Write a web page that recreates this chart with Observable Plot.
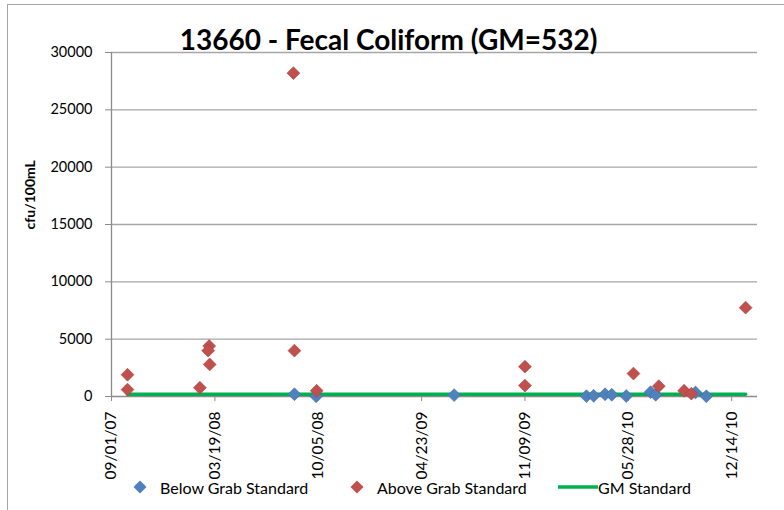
<!DOCTYPE html>
<html><head><meta charset="utf-8">
<script src="https://cdn.jsdelivr.net/npm/d3@7"></script>
<script src="https://cdn.jsdelivr.net/npm/@observablehq/plot@0.6"></script>
<style>
body{margin:0;background:#fff;}
#wrap{position:relative;width:784px;height:510px;font-family:Lato,"Open Sans",sans-serif;overflow:hidden;background:#fff;}
#frame{position:absolute;left:7px;top:4px;width:800px;height:520px;border-top:1.5px solid #a6a6a6;border-left:1.5px solid #a6a6a6;box-sizing:border-box;}
#chart{position:absolute;left:0;top:0;}
#legend{position:absolute;left:0;top:474px;width:784px;height:26px;font-size:16px;color:#000;}
#legend .item{position:absolute;top:0;display:flex;align-items:center;height:26px;white-space:nowrap;}
</style>
</head><body>
<div id="wrap">
  <div id="frame"></div>
  <div id="chart"></div>
  <div id="legend"></div>
</div>
<script>
// ---- data ----
const titleText = "13660 - Fecal Coliform (GM=532)";
const yLabel = "cfu/100mL";
const yTicks = [0, 5000, 10000, 15000, 20000, 25000, 30000];
const xTickLabels = ["09/01/07", "03/19/08", "10/05/08", "04/23/09", "11/09/09", "05/28/10", "12/14/10"];
const xDomain = ["2007-09-01", "2011-02-02"];

const belowDates = ["2008-08-20", "2008-10-01", "2009-06-25", "2010-03-08", "2010-03-22", "2010-04-13", "2010-04-26", "2010-05-24", "2010-07-10", "2010-07-20", "2010-10-05", "2010-10-26"];
const belowValues = [200, 20, 120, 30, 60, 200, 150, 40, 380, 150, 350, 20];

const aboveDates = ["2007-10-02", "2007-10-02", "2008-02-19", "2008-03-08", "2008-03-06", "2008-03-09", "2008-08-18", "2008-08-20", "2008-10-02", "2009-11-09", "2009-11-09", "2010-06-07", "2010-07-26", "2010-09-13", "2010-09-27", "2011-01-10"];
const aboveValues = [1900, 600, 760, 4400, 4000, 2800, 28200, 4000, 500, 2600, 950, 2000, 900, 500, 250, 7750];

const gmDates = ["2007-10-02", "2011-01-10"];
const gmValues = [200, 200];

const seriesNames = ["Below Grab Standard", "Above Grab Standard", "GM Standard"];
const colors = {below: "#4F81BD", above: "#C0504D", gm: "#00B050"};

// ---- build ----
const parseISO = s => new Date(s + "T00:00:00Z");
const parseMDY = s => { const [m, d, y] = s.split("/").map(Number); return new Date(Date.UTC(2000 + y, m - 1, d)); };
const tickDates = xTickLabels.map(parseMDY);
const labelOf = new Map(tickDates.map((d, i) => [+d, xTickLabels[i]]));

const below = belowDates.map((d, i) => ({date: parseISO(d), value: belowValues[i]}));
const above = aboveDates.map((d, i) => ({date: parseISO(d), value: aboveValues[i]}));
const gm = gmDates.map((d, i) => ({date: parseISO(d), value: gmValues[i]}));

const axisGray = "#8c8c8c";
const chart = Plot.plot({
  width: 784, height: 510,
  marginLeft: 111, marginRight: 27, marginTop: 52, marginBottom: 114,
  style: {fontFamily: "Lato, 'Open Sans', sans-serif", fontSize: "14.5px", color: "#000", background: "transparent", overflow: "visible"},
  x: {type: "utc", domain: xDomain.map(parseISO)},
  y: {domain: [0, 30000]},
  marks: [
    Plot.ruleY(yTicks.filter(d => d > 0), {stroke: "#a6a6a6", strokeWidth: 1.3}),
    Plot.axisY({ticks: yTicks, tickSize: 6, tickPadding: 13, tickFormat: d => String(d), stroke: axisGray, label: null}),
    Plot.axisX({ticks: tickDates, tickFormat: d => labelOf.get(+d), tickRotate: -90, tickSize: 5, tickPadding: 10, stroke: axisGray, fontSize: 15.5, label: null}),
    Plot.ruleY([0], {stroke: axisGray, strokeWidth: 1.3}),
    Plot.ruleX([parseISO(xDomain[0])], {stroke: axisGray, strokeWidth: 1.3}),
    Plot.line(gm, {x: "date", y: "value", stroke: colors.gm, strokeWidth: 3.5}),
    Plot.dot(below, {x: "date", y: "value", symbol: "diamond2", r: 5.8, fill: colors.below, stroke: "#3f6fa8", strokeWidth: 0.6}),
    Plot.dot(above, {x: "date", y: "value", symbol: "diamond2", r: 5.8, fill: colors.above, stroke: "#a9403d", strokeWidth: 0.6}),
    Plot.text([titleText], {frameAnchor: "top", dx: -46, dy: -3, lineAnchor: "bottom", fontSize: 28, fontWeight: "bold", fill: "#000"}),
    Plot.text([yLabel], {frameAnchor: "left", dx: -81, dy: 5, rotate: -90, fontSize: 14, fontWeight: "bold", fill: "#000"})
  ]
});
document.getElementById("chart").appendChild(chart);

// ---- legend ----
const legend = document.getElementById("legend");
const diamond = c => `<svg width="14" height="14" style="margin-right:13px"><path d="M7,0.5L13.5,7L7,13.5L0.5,7Z" fill="${c}"/></svg>`;
const line = c => `<svg width="40" height="14" style="margin-right:0px"><line x1="0" x2="40" y1="7" y2="7" stroke="${c}" stroke-width="3.5"/></svg>`;
const items = [
  {left: 133, html: diamond(colors.below) + "<span>" + seriesNames[0] + "</span>"},
  {left: 350, html: diamond(colors.above) + "<span>" + seriesNames[1] + "</span>"},
  {left: 558, html: line(colors.gm) + "<span>" + seriesNames[2] + "</span>"}
];
for (const it of items) {
  const div = document.createElement("div");
  div.className = "item";
  div.style.left = it.left + "px";
  div.innerHTML = it.html;
  legend.appendChild(div);
}
</script>
</body></html>
